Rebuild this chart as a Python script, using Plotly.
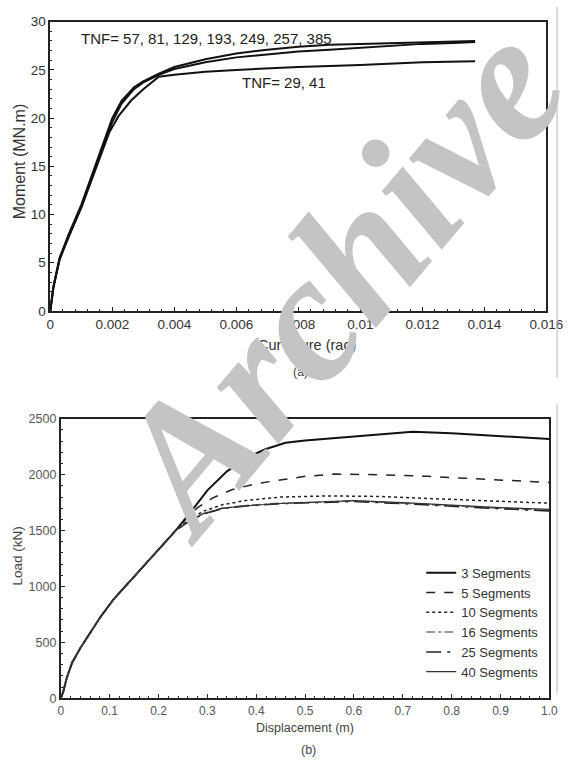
import plotly.graph_objects as go

# ---------------- (a) Moment-curvature data ----------------
curv_upper1 = [0, 0.0001, 0.0003, 0.0006, 0.001, 0.0015, 0.002, 0.0023, 0.0027, 0.003, 0.0035,
               0.004, 0.005, 0.006, 0.007, 0.008, 0.009, 0.010, 0.011, 0.012, 0.013, 0.0137]
mom_upper1 = [0, 2.5, 5.5, 8.0, 11.0, 15.5, 20.0, 21.8, 23.2, 23.8, 24.6,
              25.3, 26.1, 26.7, 27.1, 27.4, 27.6, 27.7, 27.8, 27.9, 28.0, 28.0]
curv_upper2 = [0, 0.0001, 0.0003, 0.0006, 0.001, 0.0015, 0.002, 0.0023, 0.0027, 0.003, 0.0035,
               0.004, 0.005, 0.006, 0.007, 0.008, 0.009, 0.010, 0.011, 0.012, 0.013, 0.0137]
mom_upper2 = [0, 2.4, 5.4, 7.8, 10.8, 15.2, 19.6, 21.5, 23.0, 23.7, 24.5,
              25.1, 25.8, 26.3, 26.6, 26.9, 27.1, 27.3, 27.5, 27.7, 27.8, 27.9]
curv_lower = [0, 0.0001, 0.0003, 0.0006, 0.001, 0.0015, 0.0019, 0.0022, 0.0026, 0.003, 0.0035,
              0.004, 0.005, 0.006, 0.008, 0.010, 0.012, 0.0137]
mom_lower = [0, 2.4, 5.3, 7.8, 10.7, 15.0, 18.5, 20.2, 21.8, 23.0, 24.3,
             24.5, 24.8, 25.0, 25.3, 25.5, 25.8, 25.9]

x_ticks_a = [0, 0.002, 0.004, 0.006, 0.008, 0.01, 0.012, 0.014, 0.016]
x_ticktext_a = ["0", "0.002", "0.004", "0.006", "0.008", "0.01", "0.012", "0.014", "0.016"]
y_ticks_a = [0, 5, 10, 15, 20, 25, 30]

# ---------------- (b) Load-displacement data ----------------
seg_names = ["3 Segments", "5 Segments", "10 Segments", "16 Segments", "25 Segments", "40 Segments"]
disp_common = [0, 0.005, 0.012, 0.023, 0.04, 0.06, 0.08, 0.107, 0.147, 0.19]
load_common = [0, 60, 180, 318, 450, 590, 720, 880, 1075, 1290]

disp_3 = [0.235, 0.27, 0.30, 0.34, 0.38, 0.42, 0.46, 0.50, 0.60, 0.72, 0.80, 0.90, 1.0]
load_3 = [1500, 1690, 1860, 2030, 2150, 2230, 2285, 2305, 2340, 2385, 2370, 2345, 2320]
disp_5 = [0.235, 0.26, 0.28, 0.31, 0.35, 0.40, 0.46, 0.50, 0.56, 0.65, 0.75, 0.85, 1.0]
load_5 = [1500, 1620, 1705, 1790, 1865, 1920, 1955, 1985, 2005, 2000, 1985, 1965, 1930]
disp_10 = [0.235, 0.26, 0.29, 0.33, 0.38, 0.45, 0.55, 0.65, 0.75, 0.85, 1.0]
load_10 = [1500, 1590, 1670, 1730, 1770, 1800, 1810, 1805, 1790, 1770, 1745]
disp_16 = [0.235, 0.26, 0.29, 0.33, 0.38, 0.45, 0.55, 0.60, 0.70, 0.80, 0.90, 1.0]
load_16 = [1500, 1580, 1650, 1700, 1725, 1745, 1760, 1765, 1745, 1720, 1700, 1680]
disp_25 = [0.235, 0.26, 0.29, 0.33, 0.38, 0.45, 0.55, 0.60, 0.70, 0.80, 0.90, 1.0]
load_25 = [1500, 1575, 1645, 1695, 1720, 1740, 1755, 1760, 1740, 1715, 1695, 1675]
disp_40 = [0.235, 0.26, 0.29, 0.33, 0.38, 0.45, 0.55, 0.60, 0.70, 0.80, 0.90, 1.0]
load_40 = [1500, 1578, 1648, 1698, 1722, 1742, 1758, 1768, 1750, 1725, 1705, 1690]

x_ticks_b = [0, 0.1, 0.2, 0.3, 0.4, 0.5, 0.6, 0.7, 0.8, 0.9, 1.0]
x_ticktext_b = ["0", "0.1", "0.2", "0.3", "0.4", "0.5", "0.6", "0.7", "0.8", "0.9", "1.0"]
y_ticks_b = [0, 500, 1000, 1500, 2000, 2500]

W, H = 576, 767
FONT = "Liberation Sans, Arial, sans-serif"


def px_x(p):
    return p / W


def px_y(p):
    return 1 - p / H


fig = go.Figure()

# (a) traces
for xs, ys in [(curv_upper1, mom_upper1), (curv_upper2, mom_upper2), (curv_lower, mom_lower)]:
    fig.add_trace(go.Scatter(x=xs, y=ys, mode="lines", line=dict(color="#111", width=2),
                             showlegend=False, xaxis="x", yaxis="y"))

# (b) traces, each with its own one-item legend so the spacing can match
seg_x = [disp_3, disp_5, disp_10, disp_16, disp_25, disp_40]
seg_y = [load_3, load_5, load_10, load_16, load_25, load_40]
styles = [dict(color="#111", width=2, dash="solid"),
          dict(color="#222", width=1.5, dash="dash"),
          dict(color="#222", width=1.5, dash="dot"),
          dict(color="#777", width=1.5, dash="dashdot"),
          dict(color="#222", width=1.5, dash="longdashdot"),
          dict(color="#333", width=1.2, dash="solid")]
legend_ids = ["legend", "legend2", "legend3", "legend4", "legend5", "legend6"]
for name, xs, ys, st, lg in zip(seg_names, seg_x, seg_y, styles, legend_ids):
    fig.add_trace(go.Scatter(x=disp_common + xs, y=load_common + ys, mode="lines", name=name,
                             line=st, xaxis="x2", yaxis="y2", legend=lg))

axis_common = dict(showline=True, linecolor="#222", linewidth=1.5, mirror=True, ticks="inside",
                   ticklen=4, tickcolor="#222", showgrid=False, zeroline=False)

legend_layout = {}
for i, lg in enumerate(legend_ids):
    legend_layout[lg] = dict(x=px_x(433), y=px_y(577 + i * 20.2), xanchor="left", yanchor="middle",
                             bgcolor="rgba(0,0,0,0)", font=dict(family=FONT, size=13, color="#333"),
                             itemwidth=30)

fig.update_layout(
    width=W, height=H, margin=dict(l=0, r=0, t=0, b=0),
    paper_bgcolor="white", plot_bgcolor="white",
    font=dict(family=FONT, color="#222"),
    xaxis=dict(domain=[px_x(48), px_x(563)], anchor="y", range=[0, 0.016],
               tickvals=x_ticks_a, ticktext=x_ticktext_a,
               minor=dict(dtick=0.0004, ticks="inside", ticklen=2, tickcolor="#222"),
               tickfont=dict(family=FONT, size=13.5, color="#333"),
               **axis_common),
    yaxis=dict(domain=[px_y(310), px_y(15)], anchor="x", range=[0, 30], tickvals=y_ticks_a,
               minor=dict(dtick=1, ticks="inside", ticklen=2, tickcolor="#222"),
               tickfont=dict(family=FONT, size=13.5, color="#333"),
               **axis_common),
    xaxis2=dict(domain=[px_x(59), px_x(566)], anchor="y2", range=[0, 1.0],
                tickvals=x_ticks_b, ticktext=x_ticktext_b,
                minor=dict(dtick=0.02, ticks="inside", ticklen=2, tickcolor="#222"),
                tickfont=dict(family=FONT, size=12, color="#555"),
                **{**axis_common, "linewidth": 2}),
    yaxis2=dict(domain=[px_y(705), px_y(420)], anchor="x2", range=[0, 2500], tickvals=y_ticks_b,
                minor=dict(dtick=100, ticks="inside", ticklen=2, tickcolor="#222"),
                tickfont=dict(family=FONT, size=12.5, color="#555"),
                **{**axis_common, "linewidth": 2}),
    **legend_layout,
)

ann = dict(xref="paper", yref="paper", showarrow=False)
ctr = dict(xanchor="center", yanchor="middle")
fig.add_annotation(x=px_x(78), y=px_y(32), xanchor="left", yanchor="middle",
                   text="TNF= 57, 81, 129, 193, 249, 257, 385",
                   font=dict(family=FONT, size=15, color="#222"), **ann)
fig.add_annotation(x=px_x(245), y=px_y(77), xanchor="left", yanchor="middle", text="TNF= 29, 41",
                   font=dict(family=FONT, size=15, color="#222"), **ann)
fig.add_annotation(x=px_x(17), y=px_y(157), text="Moment (MN.m)", textangle=-90,
                   font=dict(family=FONT, size=16, color="#333"), **ann, **ctr)
fig.add_annotation(x=px_x(314), y=px_y(345), text="Curvature (rad)",
                   font=dict(family=FONT, size=14.5, color="#333"), **ann, **ctr)
fig.add_annotation(x=px_x(308), y=px_y(372), text="(a)",
                   font=dict(family=FONT, size=12.5, color="#444"), **ann, **ctr)
fig.add_annotation(x=px_x(14), y=px_y(560), text="Load (kN)", textangle=-90,
                   font=dict(family=FONT, size=13.5, color="#444"), **ann, **ctr)
fig.add_annotation(x=px_x(312), y=px_y(735), text="Displacement (m)",
                   font=dict(family=FONT, size=12.5, color="#444"), **ann, **ctr)
fig.add_annotation(x=px_x(316), y=px_y(758), text="(b)",
                   font=dict(family=FONT, size=12.5, color="#444"), **ann, **ctr)

# page edge lines of the scanned figure
fig.add_shape(type="line", xref="paper", yref="paper", x0=px_x(574), x1=px_x(574),
              y0=px_y(0), y1=px_y(378), line=dict(color="#bbb", width=1))
fig.add_shape(type="line", xref="paper", yref="paper", x0=px_x(574), x1=px_x(574),
              y0=px_y(405), y1=px_y(700), line=dict(color="#bbb", width=1))

# watermark
fig.add_annotation(x=px_x(345), y=px_y(278), text="<b><i>Archive</i></b>", textangle=-50,
                   font=dict(family="Liberation Serif, DejaVu Serif, serif", size=182, color="#c4c4c4"),
                   **ann, **ctr)

fig.write_html("out.html")
